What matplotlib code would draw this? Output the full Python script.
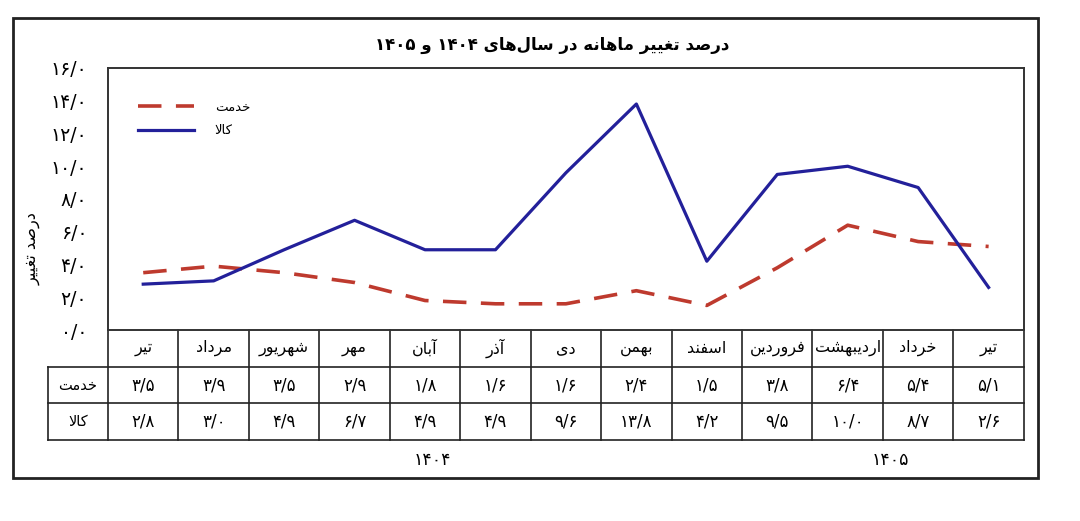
import matplotlib
matplotlib.use("Agg")
import matplotlib.pyplot as plt
from matplotlib.patches import Rectangle

# ---- data -------------------------------------------------------------
MONTHS = ["تیر", "مرداد", "شهریور", "مهر", "آبان", "آذر", "دی",
          "بهمن", "اسفند", "فروردین", "اردیبهشت", "خرداد", "تیر"]
YEAR_LABELS = ["۱۴۰۴", "۱۴۰۵"]
YEAR_SPANS = [(0, 8), (9, 12)]
SERVICES = [3.5, 3.9, 3.5, 2.9, 1.8, 1.6, 1.6, 2.4, 1.5, 3.8, 6.4, 5.4, 5.1]
GOODS = [2.8, 3.0, 4.9, 6.7, 4.9, 4.9, 9.6, 13.8, 4.2, 9.5, 10.0, 8.7, 2.6]
SERIES_NAMES = ["خدمت", "کالا"]
Y_TICKS = [0, 2, 4, 6, 8, 10, 12, 14, 16]
TITLE = "درصد تغییر ماهانه در سال‌های ۱۴۰۴ و ۱۴۰۵"
Y_LABEL = "درصد تغییر"

RED = "#be3a2e"
BLUE = "#23209a"

# ---- minimal arabic/persian shaping (matplotlib has no bidi) ----------
LAM_ALEF = "\uFEFB"
FORMS = {
    # isolated, final, initial, medial
    "ا": ("\uFE8D", "\uFE8E", None, None),
    "آ": ("\uFE81", "\uFE82", None, None),
    "ب": ("\uFE8F", "\uFE90", "\uFE91", "\uFE92"),
    "ت": ("\uFE95", "\uFE96", "\uFE97", "\uFE98"),
    "خ": ("\uFEA5", "\uFEA6", "\uFEA7", "\uFEA8"),
    "د": ("\uFEA9", "\uFEAA", None, None),
    "ذ": ("\uFEAB", "\uFEAC", None, None),
    "ر": ("\uFEAD", "\uFEAE", None, None),
    "ز": ("\uFEAF", "\uFEB0", None, None),
    "س": ("\uFEB1", "\uFEB2", "\uFEB3", "\uFEB4"),
    "ش": ("\uFEB5", "\uFEB6", "\uFEB7", "\uFEB8"),
    "ص": ("\uFEB9", "\uFEBA", "\uFEBB", "\uFEBC"),
    "غ": ("\uFECD", "\uFECE", "\uFECF", "\uFED0"),
    "ف": ("\uFED1", "\uFED2", "\uFED3", "\uFED4"),
    "ل": ("\uFEDD", "\uFEDE", "\uFEDF", "\uFEE0"),
    "م": ("\uFEE1", "\uFEE2", "\uFEE3", "\uFEE4"),
    "ن": ("\uFEE5", "\uFEE6", "\uFEE7", "\uFEE8"),
    "ه": ("\uFEE9", "\uFEEA", "\uFEEB", "\uFEEC"),
    "و": ("\uFEED", "\uFEEE", None, None),
    "ک": ("\uFB8E", "\uFB8F", "\uFB90", "\uFB91"),
    "ی": ("\uFBFC", "\uFBFD", "\uFBFE", "\uFBFF"),
    LAM_ALEF: ("\uFEFB", "\uFEFC", None, None),
}


def shape_word(word):
    chars = list(word.replace("لا", LAM_ALEF))
    out = []
    for i, c in enumerate(chars):
        if c not in FORMS:
            if c != "\u200c":
                out.append(c)
            continue
        prev = chars[i - 1] if i > 0 else None
        nxt = chars[i + 1] if i + 1 < len(chars) else None
        joins_prev = prev in FORMS and FORMS[prev][2] is not None
        joins_next = FORMS[c][2] is not None and nxt in FORMS
        iso, fin, ini, med = FORMS[c]
        if joins_prev and joins_next:
            out.append(med)
        elif joins_prev:
            out.append(fin)
        elif joins_next:
            out.append(ini)
        else:
            out.append(iso)
    return "".join(reversed(out))


def fa(text):
    words = []
    for w in text.split(" "):
        if any(c in FORMS or c == "ل" for c in w):
            words.append(shape_word(w))
        else:
            words.append(w)
    return " ".join(reversed(words))


def fa_num(v):
    digits = "۰۱۲۳۴۵۶۷۸۹"
    s = f"{v:.1f}".replace(".", "/")
    return "".join(digits[int(c)] if c.isdigit() else c for c in s)


# ---- figure -----------------------------------------------------------
plt.rcParams["font.family"] = ["DejaVu Sans"]

fig = plt.figure(figsize=(10.8, 5.21), dpi=100)
ax = fig.add_axes([0.100, 0.3666, 0.848, 0.5029])

x = list(range(len(MONTHS)))
ax.plot(x, SERVICES, color=RED, lw=2.6, dashes=(6.5, 4), label=fa(SERIES_NAMES[0]))
ax.plot(x, GOODS, color=BLUE, lw=2.3, label=fa(SERIES_NAMES[1]))

ax.set_xlim(-0.5, len(MONTHS) - 0.5)
ax.set_ylim(Y_TICKS[0], Y_TICKS[-1])
ax.set_yticks(Y_TICKS)
ax.set_yticklabels([fa_num(t) for t in Y_TICKS], fontsize=13.5)
ax.set_xticks([])
ax.tick_params(axis="y", length=0, pad=15)
for sp in ax.spines.values():
    sp.set_linewidth(1.4)
    sp.set_color("#333333")

ax.set_ylabel(fa(Y_LABEL), fontsize=11.5)
ax.yaxis.set_label_coords(-0.074, 0.31)

leg = ax.legend(loc="upper left", bbox_to_anchor=(0.02, 0.92), frameon=False,
                fontsize=9.5, handlelength=4.2, handletextpad=1.6, labelspacing=0.8)

# ---- data table under the axes ----------------------------------------
row_h = 0.14
label_left = -1.35
tr = ax.get_xaxis_transform()
n = len(MONTHS)

for k in (1, 2, 3):
    ax.plot([label_left, n - 0.5], [-k * row_h, -k * row_h], color="#222222", lw=1.2,
            transform=tr, clip_on=False)
for i in range(n + 1):
    ax.plot([i - 0.5, i - 0.5], [0, -3 * row_h], color="#222222", lw=1.2,
            transform=tr, clip_on=False)
ax.plot([label_left, label_left], [-row_h, -3 * row_h], color="#222222", lw=1.2,
        transform=tr, clip_on=False)

for i, m in enumerate(MONTHS):
    ax.text(i, -0.5 * row_h, fa(m), ha="center", va="center", fontsize=11.5, transform=tr)
    ax.text(i, -1.5 * row_h, fa_num(SERVICES[i]), ha="center", va="center", fontsize=12,
            transform=tr)
    ax.text(i, -2.5 * row_h, fa_num(GOODS[i]), ha="center", va="center", fontsize=12,
            transform=tr)
for k, name in enumerate(SERIES_NAMES):
    ax.text((label_left - 0.5) / 2, -(1.5 + k) * row_h, fa(name), ha="center", va="center",
            fontsize=10.5, transform=tr)

for lbl, (a, b) in zip(YEAR_LABELS, YEAR_SPANS):
    ax.text((a + b) / 2 + 0.1, -3.55 * row_h, lbl, ha="center", va="center", fontsize=12.5,
            transform=tr)

fig.text(0.511, 0.913, fa(TITLE), ha="center", va="center", fontsize=12, fontweight="bold")

fig.patches.append(Rectangle((0.012, 0.0825), 0.949, 0.883, transform=fig.transFigure,
                             fill=False, lw=2.0, edgecolor="#222222"))

fig.savefig("out.png", dpi=100)
